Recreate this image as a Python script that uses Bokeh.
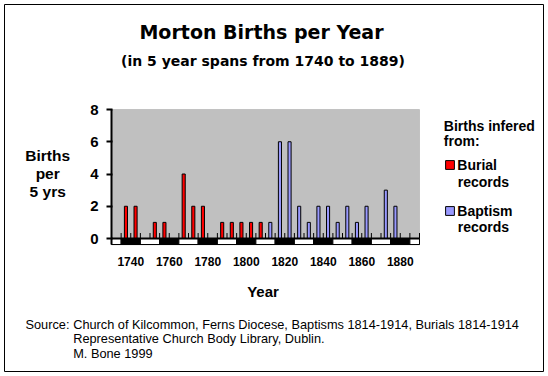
from bokeh.plotting import figure
from bokeh.models import Range1d, FixedTicker, Label, Legend, LegendItem, BoxAnnotation
from bokeh.embed import file_html
from bokeh.resources import INLINE

# ---- data (5-year spans) ----
span_years = [1740, 1745, 1750, 1755, 1760, 1765, 1770, 1775, 1780, 1785,
              1790, 1795, 1800, 1805, 1810, 1815, 1820, 1825, 1830, 1835,
              1840, 1845, 1850, 1855, 1860, 1865, 1870, 1875, 1880, 1885]
burial_births = [2, 2, 0, 1, 1, 0, 4, 2, 2, 0,
                 1, 1, 1, 1, 1, 0, 0, 0, 0, 0,
                 0, 0, 0, 0, 0, 0, 0, 0, 0, 0]
baptism_births = [0, 0, 0, 0, 0, 0, 0, 0, 0, 0,
                  0, 0, 0, 0, 0, 1, 6, 6, 2, 1,
                  2, 2, 1, 2, 1, 2, 0, 3, 2, 0]
tick_labels = ["1740", "1760", "1780", "1800", "1820", "1840", "1860", "1880"]
y_ticks = [0, 2, 4, 6, 8]

SPAN = 5
x_lo = span_years[0] - SPAN
x_hi = span_years[-1] + 2 * SPAN
Y_LO, Y_HI = -0.375, 8

BOLD = "Liberation Sans"
TITLE_FONT = "DejaVu Sans"

# canvas geometry (window pixels)
W, H = 540, 368
OX, OY = 4, 4
FRAME_L, FRAME_W = 111, 308       # plot area left edge / width in window px
Y0_PX, PX_PER_UNIT = 238, 16.125  # window px of y=0, px per unit

def dx(wx):
    return x_lo + (wx - FRAME_L) * (x_hi - x_lo) / FRAME_W

def dy(wy):
    return (Y0_PX - wy) / PX_PER_UNIT

p = figure(width=W, height=H,
           x_range=Range1d(dx(OX), dx(OX + W)), y_range=Range1d(dy(OY + H), dy(OY)),
           output_backend="svg", toolbar_location=None,
           min_border=0, min_border_left=0, min_border_right=0,
           min_border_top=0, min_border_bottom=0,
           margin=(OY, 0, 0, OX),
           background_fill_color="white", border_fill_color="white",
           outline_line_color="black", outline_line_width=1)
p.xgrid.visible = False
p.ygrid.visible = False

# gray plot area
p.add_layout(BoxAnnotation(left=x_lo, right=x_hi, bottom=0, top=Y_HI,
                           fill_color="#C0C0C0", fill_alpha=1,
                           line_color="#808080", line_width=1, level="underlay"))

# bars
bx_b = [y + SPAN / 2 for y, v in zip(span_years, burial_births) if v > 0]
bv_b = [v for v in burial_births if v > 0]
bx_p = [y + SPAN / 2 for y, v in zip(span_years, baptism_births) if v > 0]
bv_p = [v for v in baptism_births if v > 0]
r_bur = p.vbar(x=bx_b, top=bv_b, width=1.6, bottom=0,
               fill_color="#FF0000", line_color="black", line_width=1)
r_bap = p.vbar(x=bx_p, top=bv_p, width=1.6, bottom=0,
               fill_color="#9999FF", line_color="black", line_width=1)

# decade band under the axis
edges = [x_lo] + [y for y in span_years if y % 10 == 0] + [span_years[-1] + SPAN, x_hi]
lefts = edges[:-1]
rights = edges[1:]
fills = ["black" if (l % 20 == 0 and r - l == 10) else "white" for l, r in zip(lefts, rights)]
p.quad(left=lefts, right=rights, bottom=Y_LO, top=0, fill_color=fills,
       line_color="black", line_width=1)

# small ticks at span boundaries
bounds = list(span_years) + [span_years[-1] + SPAN, x_hi]
p.segment(x0=bounds, y0=[0] * len(bounds), x1=bounds, y1=[0.34] * len(bounds),
          line_color="black", line_width=1)
# zero line
p.segment(x0=[x_lo], y0=[0], x1=[x_hi], y1=[0], line_color="black", line_width=2)

# axes
p.yaxis.fixed_location = x_lo
p.yaxis.bounds = (Y_LO, Y_HI)
p.yaxis.ticker = FixedTicker(ticks=y_ticks)
p.yaxis.axis_line_width = 2
p.yaxis.axis_line_color = "black"
p.yaxis.major_tick_out = 5
p.yaxis.major_tick_in = 1
p.yaxis.major_tick_line_width = 2
p.yaxis.minor_tick_line_color = None
p.yaxis.major_label_standoff = 8
p.yaxis.major_label_text_font = BOLD
p.yaxis.major_label_text_font_style = "bold"
p.yaxis.major_label_text_font_size = "15px"
p.yaxis.major_label_text_color = "black"

tick_pos = [int(t) + SPAN for t in tick_labels]
p.xaxis.fixed_location = Y_LO
p.xaxis.bounds = (x_lo, x_hi)
p.xaxis.ticker = FixedTicker(ticks=tick_pos)
p.xaxis.major_label_overrides = {pos: lab for pos, lab in zip(tick_pos, tick_labels)}
p.xaxis.axis_line_color = "black"
p.xaxis.axis_line_width = 1
p.xaxis.major_tick_out = 0
p.xaxis.major_tick_in = 0
p.xaxis.minor_tick_line_color = None
p.xaxis.major_label_standoff = 12
p.xaxis.major_label_text_font = BOLD
p.xaxis.major_label_text_font_style = "bold"
p.xaxis.major_label_text_font_size = "12px"
p.xaxis.major_label_text_color = "black"

BASE_FIX = 0.38  # empirical baseline correction (em)

def txt(text, px, py, size, bold=True, align="left", font=BOLD):
    p.add_layout(Label(x=dx(px), y=dy(py - BASE_FIX * size), text=text, text_align=align,
                       text_baseline="alphabetic", text_font=font,
                       text_font_size=f"{size}px",
                       text_font_style="bold" if bold else "normal",
                       text_color="black"))

txt("Morton Births per Year", 261, 38.3, 19, align="center", font=TITLE_FONT)
txt("(in 5 year spans from 1740 to 1889)", 262.5, 66, 14, align="center", font=TITLE_FONT)
txt("Births", 47.2, 160.7, 15.5, align="center")
txt("per", 47.2, 178.5, 15.5, align="center")
txt("5 yrs", 47.2, 196.5, 15.5, align="center")
txt("Year", 262.5, 297, 15, align="center")
txt("Births infered", 443.3, 130.7, 14)
txt("from:", 443.3, 146, 14)
txt("records", 457.3, 186.7, 14)
txt("records", 457.3, 231.7, 14)
txt("Source:", 25, 329, 12.75, bold=False)
txt("Church of Kilcommon, Ferns Diocese, Baptisms 1814-1914, Burials 1814-1914", 72.7, 329, 12.75, bold=False)
txt("Representative Church Body Library, Dublin.", 72.7, 343.3, 12.75, bold=False)
txt("M. Bone 1999", 72.7, 357.7, 12.75, bold=False)

legend = Legend(items=[LegendItem(label="Burial", renderers=[r_bur]),
                       LegendItem(label="Baptism", renderers=[r_bap])],
                location=(440.3, 151.5), orientation="vertical",
                glyph_width=11, glyph_height=11, label_height=20, label_width=10,
                label_standoff=2, spacing=26, padding=0, margin=0,
                border_line_alpha=0, background_fill_alpha=0,
                label_text_font=BOLD, label_text_font_style="bold",
                label_text_font_size="14px", label_text_color="black")
p.add_layout(legend, "center")

open("out.html", "w").write(file_html(p, INLINE))
